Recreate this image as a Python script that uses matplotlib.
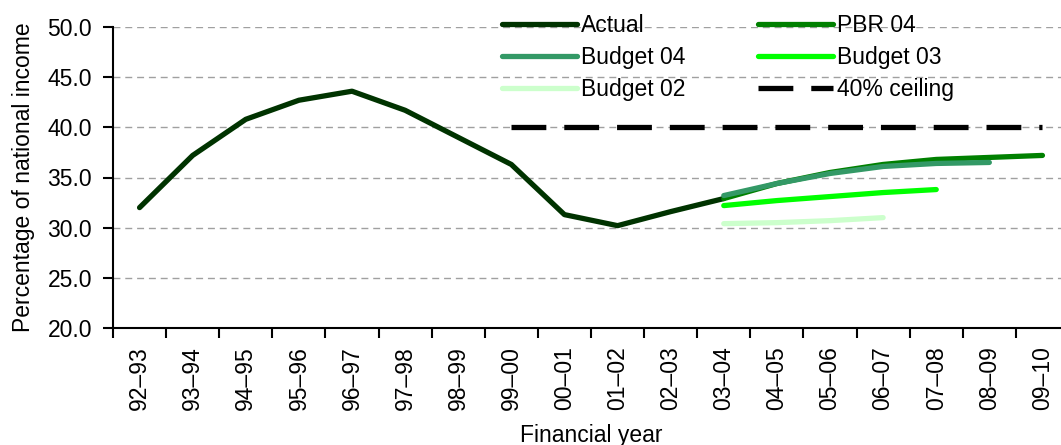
import matplotlib
matplotlib.use("Agg")
import matplotlib.pyplot as plt
import numpy as np

years = ["92\u201393", "93\u201394", "94\u201395", "95\u201396", "96\u201397", "97\u201398",
         "98\u201399", "99\u201300", "00\u201301", "01\u201302", "02\u201303", "03\u201304",
         "04\u201305", "05\u201306", "06\u201307", "07\u201308", "08\u201309", "09\u201310"]

actual = [32.0, 37.2, 40.8, 42.7, 43.6, 41.7, 39.0, 36.3, 31.3, 30.2, 31.6, 32.9]
pbr04 = [32.9, 34.4, 35.5, 36.3, 36.8, 37.0, 37.2]          # 03-04 .. 09-10
budget04 = [33.2, 34.4, 35.4, 36.1, 36.4, 36.5]             # 03-04 .. 08-09
budget03 = [32.2, 32.7, 33.1, 33.5, 33.8]                   # 03-04 .. 07-08
budget02 = [30.4, 30.5, 30.7, 31.0]                         # 03-04 .. 06-07
ceiling = [40.0] * 11                                       # 99-00 .. 09-10

plt.rcParams['font.family'] = ['Liberation Sans', 'DejaVu Sans']
FS = 16.5

fig = plt.figure(figsize=(10.61, 4.45), dpi=100)
ax = fig.add_axes([113/1061, (445-328)/445, 956/1061, 301/445])

x = np.arange(len(years))
lw = 3.8
ax.plot(x[:len(actual)], actual, color="#003300", lw=lw, solid_capstyle='round',
        solid_joinstyle='round', label="Actual", zorder=3)
ax.plot(x[11:11+len(pbr04)], pbr04, color="#008000", lw=lw, solid_capstyle='round',
        solid_joinstyle='round', label="PBR 04", zorder=4)
ax.plot(x[11:11+len(budget04)], budget04, color="#339966", lw=lw, solid_capstyle='round',
        solid_joinstyle='round', label="Budget 04", zorder=4)
ax.plot(x[11:11+len(budget03)], budget03, color="#00ff00", lw=lw, solid_capstyle='round',
        solid_joinstyle='round', label="Budget 03", zorder=4)
ax.plot(x[11:11+len(budget02)], budget02, color="#ccffcc", lw=lw, solid_capstyle='round',
        solid_joinstyle='round', label="Budget 02", zorder=4)
ax.plot(x[7:7+len(ceiling)], ceiling, color="black", lw=lw, linestyle=(0, (6.6, 3.4)),
        dash_capstyle='butt', label="40% ceiling", zorder=4)

ax.set_xlim(-0.5, len(years) - 0.5)
ax.set_ylim(20, 50)
ax.set_yticks(np.arange(20, 50.1, 5))
ax.set_yticklabels([f"{v:.1f}" for v in np.arange(20, 50.1, 5)], fontsize=FS)
ax.set_xticks(x)
ax.set_xticklabels(years, rotation=90, fontsize=FS)
ax.tick_params(axis='x', which='major', length=0, pad=13)
ax.set_xticks(np.arange(-0.5, len(years), 1), minor=True)
ax.tick_params(axis='x', which='minor', length=7, width=1.5, direction='out')
ax.tick_params(axis='y', length=7, width=1.5, direction='out', pad=8)

for s in ['top', 'right']:
    ax.spines[s].set_visible(False)
for s in ['left', 'bottom']:
    ax.spines[s].set_linewidth(1.5)
    ax.spines[s].set_zorder(5)

ax.yaxis.grid(True, color="#a0a0a0", linestyle=(0, (5, 3.5)), linewidth=1.0)
ax.set_axisbelow(True)

ax.set_ylabel("Percentage of national income", fontsize=FS, labelpad=9)
ax.set_xlabel("Financial year", fontsize=FS, labelpad=10)

h, l = ax.get_legend_handles_labels()
order = [0, 2, 4, 1, 3, 5]
leg = fig.legend([h[i] for i in order], [l[i] for i in order], ncol=2, frameon=False,
                 fontsize=FS, loc='upper left', bbox_to_anchor=(488/1061, 1.0),
                 borderpad=0.1, handlelength=3.3, handletextpad=0.15,
                 columnspacing=3.17, labelspacing=0.39)

fig.savefig("out.png", dpi=100)
